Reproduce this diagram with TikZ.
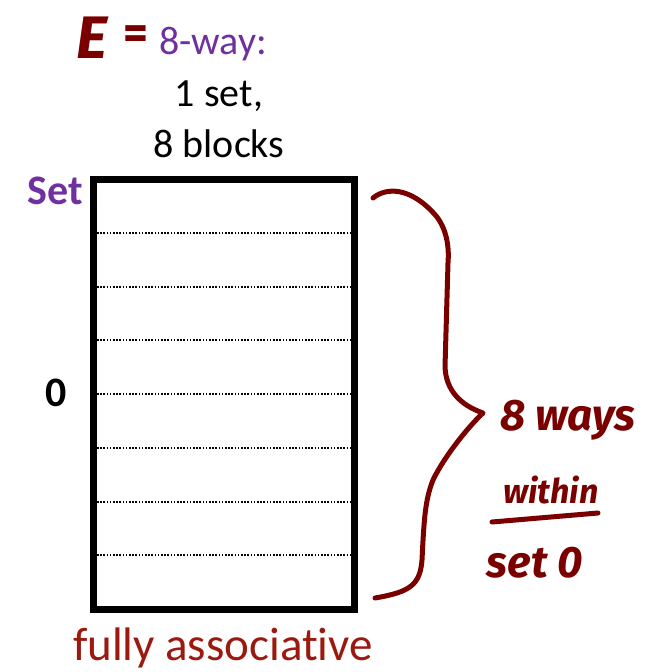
\documentclass[tikz,border=0pt]{standalone}
\usepackage{fontspec}
\setmainfont{Carlito}[Ligatures=NoCommon]
\newfontfamily\handfont{Fira Sans}
\definecolor{setpurple}{RGB}{112,48,160}
\definecolor{inkred}{RGB}{122,0,0}
\definecolor{capred}{RGB}{155,25,15}
\tikzset{
  label/.style={font=\fontsize{40}{46}\selectfont, inner sep=0pt},
  hand/.style={text=inkred, font=\handfont\itshape\bfseries, inner sep=0pt},
  ink/.style={draw=inkred, line width=5pt, line cap=round, line join=round},
  waybox/.style={draw, line width=7pt, inner sep=0pt, outer sep=0pt, anchor=north west,
    minimum width=261.5pt, minimum height=430pt},
  wayline/.style={line width=2pt, dash pattern=on 1.6pt off 1.6pt}
}
\begin{document}
\begin{tikzpicture}[x=1pt,y=-1pt]
\useasboundingbox (0,0) rectangle (654,672);
% cache box
\node[waybox] (cache) at (93,179) {};
\foreach \k in {1,...,7} {
  \draw[wayline] (97,179+53.75*\k) -- (351,179+53.75*\k);
}
% labels
\node[label, text=setpurple, font=\fontsize{42}{48}\selectfont\bfseries, anchor=east] (setlbl) at (83,191) {Set};
\node[label, font=\fontsize{42}{48}\selectfont\bfseries, anchor=east] (zero) at (67,393) {0};
\node[label, text=setpurple, anchor=west] (way) at (159,44) {8-way:};
\node[label] (oneset) at (219,96) {1 set,};
\node[label] (blocks) at (219,144) {8 blocks};
\node[label, text=capred, font=\fontsize{47}{52}\selectfont] (fa) at (223,648) {fully associative};
% handwritten
\node[hand, font=\handfont\itshape\bfseries\fontsize{60}{64}\selectfont] (E) at (92,38) {E};
\node[hand, font=\handfont\bfseries\fontsize{48}{52}\selectfont] (eq) at (136,38) {=};
\draw[ink] (373,198) .. controls (385,188) and (410,185) .. (437,217)
  .. controls (448,232) and (449,250) .. (448,263)
  -- (445,367) .. controls (446,390) and (460,405) .. (483,413)
  coordinate (tip)
  .. controls (470,425) and (445,455) .. (433,480)
  .. controls (425,500) and (424,520) .. (422,560)
  .. controls (420,585) and (410,592) .. (375,598);
\node[hand, font=\handfont\itshape\bfseries\fontsize{44}{50}\selectfont, anchor=west] (ways) at (500,420) {8 ways};
\node[hand, font=\handfont\itshape\bfseries\fontsize{34}{40}\selectfont] (within) at (551,490) {within};
\coordinate (ulA) at (492,522);
\coordinate (ulB) at (598,513);
\draw[ink] (ulA) -- (ulB);
\node[hand, font=\handfont\itshape\bfseries\fontsize{44}{50}\selectfont] (set0) at (535,563) {set 0};
\end{tikzpicture}
\end{document}
